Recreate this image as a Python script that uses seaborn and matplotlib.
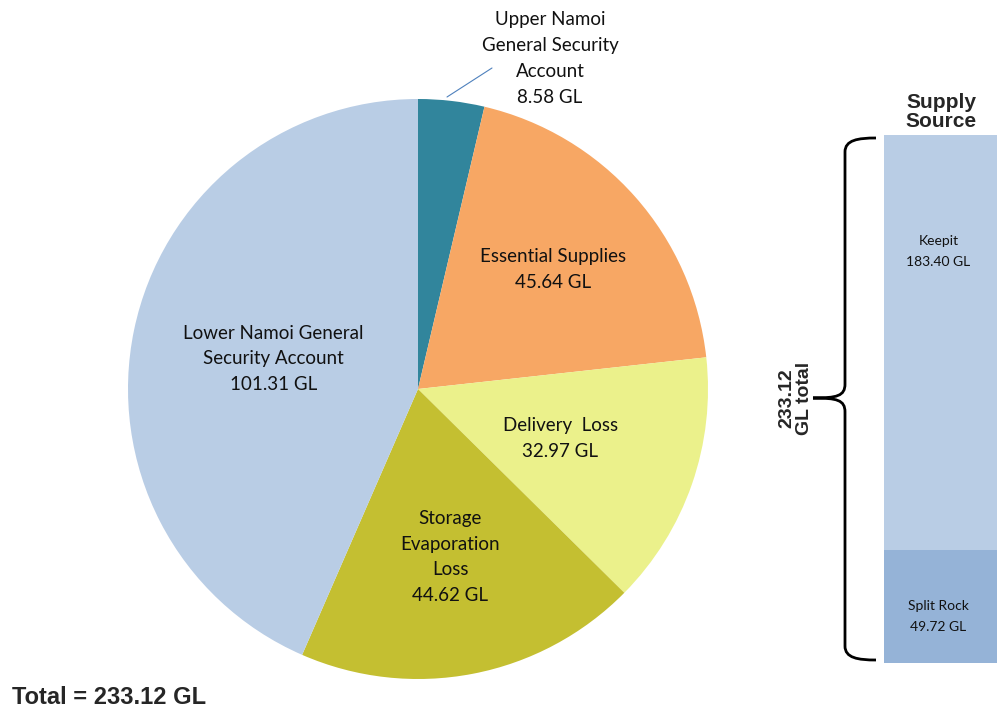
import numpy as np
import matplotlib
matplotlib.use("Agg")
import matplotlib.pyplot as plt
from matplotlib.path import Path
from matplotlib.patches import PathPatch
import seaborn as sns
import pandas as pd

# ---- data ----
use_labels = ["Upper Namoi\nGeneral Security\nAccount", "Essential Supplies", "Delivery  Loss",
              "Storage\nEvaporation\nLoss", "Lower Namoi General\nSecurity Account"]
use_values = [8.58, 45.64, 32.97, 44.62, 101.31]
use_colors = ["#31859c", "#f7a764", "#ebf18b", "#c4bf31", "#b9cde5"]

source_labels = ["Keepit", "Split Rock"]
source_values = [183.40, 49.72]
source_colors = ["#b9cde5", "#95b3d7"]

total_text = "Total = 233.12 GL"
brace_text = "233.12\nGL total"

# label radial distances (fraction of radius), styling only
label_r = [None, 0.62, 0.52, 0.59, 0.51]
# label vertical placement within each bar segment (fraction), styling only
source_label_frac = [0.72, 0.41]

sns.set_theme(style="white")
plt.rcParams['font.family'] = ['Lato', 'DejaVu Sans']

W, H = 997, 709
fig = plt.figure(figsize=(W / 100, H / 100), dpi=100)

def fx(px): return px / W
def fy(py): return 1 - py / H

# ---- pie ----
cx, cy, R = 418, 389, 290
ax = fig.add_axes([fx(cx - R), fy(cy + R), 2 * R / W, 2 * R / H])
wedges, _ = ax.pie(use_values, colors=use_colors, startangle=90, counterclock=False,
                   radius=1, wedgeprops=dict(linewidth=0))
ax.set_xlim(-1, 1)
ax.set_ylim(-1, 1)
ax.set_aspect('auto')
ax.axis('off')

FS = 13.5
LS = 1.62
for i, (w, lab, val) in enumerate(zip(wedges, use_labels, use_values)):
    txt = f"{lab}\n{val:.2f} GL"
    if label_r[i] is None:
        ax.text((550 - cx) / R, (cy - 58.5) / R, txt, ha='center', va='center',
                fontsize=FS, linespacing=LS, color='#111111', clip_on=False)
        ax.plot([(447 - cx) / R, (492 - cx) / R], [(cy - 97) / R, (cy - 68) / R],
                color='#4f81bd', lw=0.8, clip_on=False)
    else:
        ang = np.deg2rad((w.theta1 + w.theta2) / 2)
        r = label_r[i]
        ax.text(r * np.cos(ang), r * np.sin(ang), txt, ha='center', va='center',
                fontsize=FS, linespacing=LS, color='#111111')

# ---- stacked bar ----
bx0, bx1, by0, by1 = 884, 1000, 135, 663
bax = fig.add_axes([fx(bx0), fy(by1), (bx1 - bx0) / W, (by1 - by0) / H])
total = sum(source_values)
df_top = pd.DataFrame({"x": ["s"], "y": [total]})
df_bot = pd.DataFrame({"x": ["s"], "y": [source_values[1]]})
sns.barplot(data=df_top, x="x", y="y", color=source_colors[0], width=1.0,
            saturation=1, ax=bax, linewidth=0)
sns.barplot(data=df_bot, x="x", y="y", color=source_colors[1], width=1.0,
            saturation=1, ax=bax, linewidth=0)
bax.set_xlim(-0.5, 0.5)
bax.set_ylim(0, total)
bax.axis('off')
bottoms = [source_values[1], 0]
for lab, val, b, f in zip(source_labels, source_values, bottoms, source_label_frac):
    bax.text(-0.03, b + val * f, f"{lab}\n{val:.2f} GL", ha='center', va='center',
             fontsize=10, linespacing=1.9, color='#111111')

fig.text(fx(941), fy(112), "Supply\nSource", ha='center', va='center',
         fontsize=15, fontweight='bold', family=['Liberation Sans', 'DejaVu Sans'],
         linespacing=1.0)

# ---- brace ----
xl, ytop, ybot, ymid, xtip, xr = 845, 138, 660, 398, 813, 876
verts = [
    (xr, ytop), (858, ytop), (xl, ytop + 2), (xl, ytop + 14),
    (xl, ymid - 14),
    (xl, ymid - 2), (xl - 8, ymid), (xtip, ymid),
    (xl - 8, ymid), (xl, ymid + 2), (xl, ymid + 14),
    (xl, ybot - 14),
    (xl, ybot - 2), (858, ybot), (xr, ybot),
]
codes = [Path.MOVETO, Path.CURVE4, Path.CURVE4, Path.CURVE4,
         Path.LINETO,
         Path.CURVE4, Path.CURVE4, Path.CURVE4,
         Path.CURVE4, Path.CURVE4, Path.CURVE4,
         Path.LINETO,
         Path.CURVE4, Path.CURVE4, Path.CURVE4]
verts_f = [(fx(x), fy(y)) for x, y in verts]
fig.patches.append(PathPatch(Path(verts_f, codes), transform=fig.transFigure,
                             fill=False, lw=2, color='black'))
fig.text(fx(796), fy(ymid), brace_text, rotation=90, ha='center', va='center',
         fontsize=14, fontweight='bold', family=['Liberation Sans', 'DejaVu Sans'],
         linespacing=1.05)

fig.text(fx(12), fy(697), total_text, ha='left', va='center', fontsize=17,
         fontweight='bold', family=['Liberation Sans', 'DejaVu Sans'])

fig.savefig("out.png", dpi=100)
